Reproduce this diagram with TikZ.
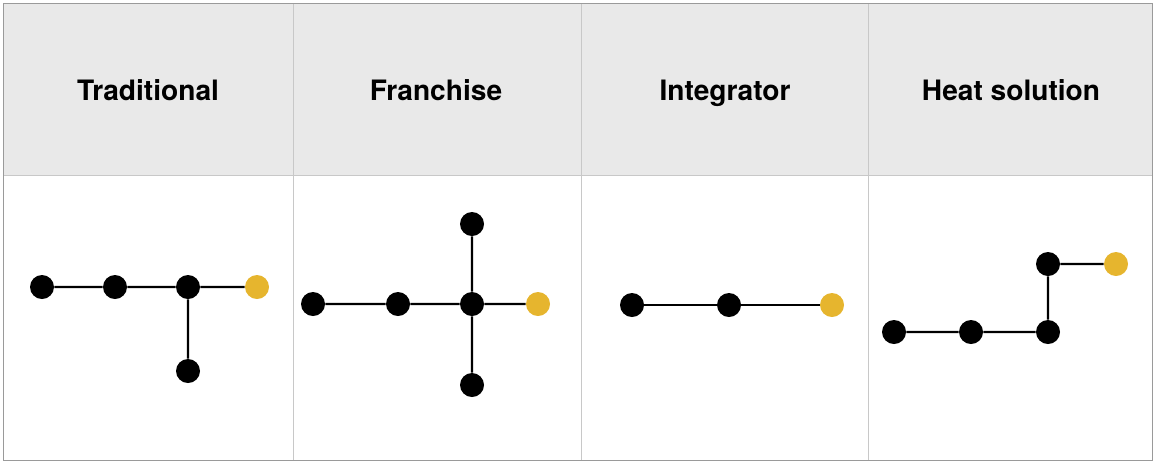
\documentclass[tikz,border=0pt]{standalone}
\usepackage{fontspec}
\setmainfont{TeX Gyre Heros}
\usepackage{tikz}
\definecolor{headgray}{HTML}{E9E9E9}
\definecolor{rulegray}{HTML}{C8C8C8}
\definecolor{framegray}{HTML}{9A9A9A}
\definecolor{gold}{HTML}{E6B52E}
\tikzset{
  font={\fontsize{16pt}{18}\selectfont\bfseries}}

\begin{document}
\begin{tikzpicture}[scale=0.2]
\tikzstyle{every node}+=[inner sep=0pt]
\tikzstyle{dot}=[circle, fill=black, minimum size=0.48cm]
\tikzstyle{goal}=[circle, fill=gold, minimum size=0.48cm]
\tikzstyle{link}=[black, line width=1.4pt]
\useasboundingbox (0,0) rectangle (115.5,-46.2);
% table
\fill [headgray] (0.3,-0.3) rectangle (115.2,-17.5);
\draw [rulegray] (0.3,-17.5) -- (115.2,-17.5);
\draw [rulegray] (29.3,-0.3) -- (29.3,-46.0);
\draw [rulegray] (58.1,-0.3) -- (58.1,-46.0);
\draw [rulegray] (86.8,-0.3) -- (86.8,-46.0);
\draw [framegray] (0.3,-0.3) rectangle (115.2,-46.0);
\node [anchor=base] (h1) at (14.8,-10) {Traditional};
\node [anchor=base] (h2) at (43.6,-10) {Franchise};
\node [anchor=base] (h3) at (72.5,-10) {Integrator};
\node [anchor=base] (h4) at (101.1,-10) {Heat solution};
% traditional
\node [dot] (a1) at (4.2,-28.7) {};
\node [dot] (a2) at (11.5,-28.7) {};
\node [dot] (a3) at (18.8,-28.7) {};
\node [goal] (a4) at (25.7,-28.7) {};
\node [dot] (a5) at (18.8,-37.1) {};
\draw [link] (a1) -- (a2) -- (a3) -- (a4);
\draw [link] (a3) -- (a5);
% franchise
\node [dot] (b1) at (31.3,-30.4) {};
\node [dot] (b2) at (39.8,-30.4) {};
\node [dot] (b3) at (47.2,-30.4) {};
\node [goal] (b4) at (53.8,-30.4) {};
\node [dot] (b5) at (47.2,-22.4) {};
\node [dot] (b6) at (47.2,-38.5) {};
\draw [link] (b1) -- (b2) -- (b3) -- (b4);
\draw [link] (b5) -- (b3) -- (b6);
% integrator
\node [dot] (c1) at (63.2,-30.5) {};
\node [dot] (c2) at (72.9,-30.5) {};
\node [goal] (c3) at (83.2,-30.5) {};
\draw [link] (c1) -- (c2) -- (c3);
% heat solution
\node [dot] (d1) at (89.4,-33.2) {};
\node [dot] (d2) at (97.1,-33.2) {};
\node [dot] (d3) at (104.8,-33.2) {};
\node [dot] (d4) at (104.8,-26.4) {};
\node [goal] (d5) at (111.6,-26.4) {};
\draw [link] (d1) -- (d2) -- (d3) -- (d4) -- (d5);
\end{tikzpicture}
\end{document}
